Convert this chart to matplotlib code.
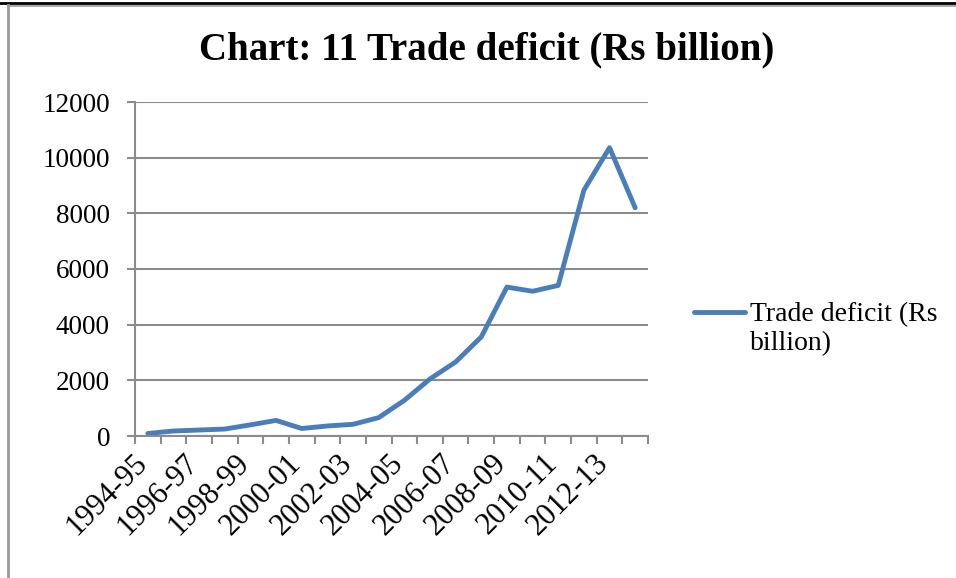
import matplotlib
matplotlib.use("Agg")
import matplotlib.pyplot as plt
from matplotlib.lines import Line2D
from matplotlib.legend_handler import HandlerLine2D
from matplotlib.transforms import ScaledTranslation

years = ["1994-95", "1995-96", "1996-97", "1997-98", "1998-99", "1999-00",
         "2000-01", "2001-02", "2002-03", "2003-04", "2004-05", "2005-06",
         "2006-07", "2007-08", "2008-09", "2009-10", "2010-11", "2011-12",
         "2012-13", "2013-14"]
deficit = [90, 180, 215, 250, 400, 560, 270, 360, 420, 660, 1280, 2050,
           2660, 3560, 5350, 5200, 5410, 8830, 10360, 8200]
yticks = [0, 2000, 4000, 6000, 8000, 10000, 12000]
series_name = "Trade deficit (Rs\nbillion)"
title = "Chart: 11 Trade deficit (Rs billion)"

W, H = 956, 578
fig = plt.figure(figsize=(W / 100, H / 100), dpi=100)
fig.patch.set_facecolor("white")
serif = ["Liberation Serif", "DejaVu Serif"]
FS = 19.5

ax = fig.add_axes([135 / W, 1 - 436 / H, 513 / W, 334 / H])
x = list(range(len(years)))
line, = ax.plot(x, deficit, color="#4a7ebb", lw=3.5, solid_capstyle="round",
                solid_joinstyle="round", label=series_name)

grid_c = "#8c8c8c"
ax.set_xlim(-0.5, len(years) - 0.5)
ax.set_ylim(0, 12000)
ax.set_yticks(yticks)
ax.set_yticklabels([str(v) for v in yticks], fontfamily=serif, fontsize=FS)
ax.yaxis.grid(True, color=grid_c, lw=1.5)
ax.set_axisbelow(True)
for s in ["top", "right"]:
    ax.spines[s].set_visible(False)
for s in ["left", "bottom"]:
    ax.spines[s].set_color(grid_c)
    ax.spines[s].set_linewidth(1.5)

ax.set_xticks([i - 0.5 for i in range(len(years) + 1)])
ax.set_xticklabels([])
ax.tick_params(axis="x", which="major", length=6, width=1.5, color=grid_c)
ax.tick_params(axis="y", which="major", length=6, width=1.5, color=grid_c, pad=12)
lab_pos = x[::2]
ax.set_xticks(lab_pos, minor=True)
labs = ax.set_xticklabels([years[i] for i in lab_pos], minor=True, rotation=45,
                          ha="right", va="top", fontfamily=serif, fontsize=22)
ax.tick_params(axis="x", which="minor", length=0, pad=9)
shift = ScaledTranslation(5 / 100, 0, fig.dpi_scale_trans)
for t in labs:
    t.set_transform(t.get_transform() + shift)

fig.text(487 / W, 1 - 50 / H, title, ha="center", va="center",
         fontfamily=serif, fontweight="bold", fontsize=28)


class TopLineHandler(HandlerLine2D):
    def create_artists(self, legend, orig_handle, xdescent, ydescent, width,
                       height, fontsize, trans):
        arts = super().create_artists(legend, orig_handle, xdescent, ydescent,
                                      width, height, fontsize, trans)
        for a in arts:
            yd = a.get_ydata()
            a.set_ydata([v + 0.6 * fontsize for v in yd])
        return arts


leg = fig.legend(handles=[line], labels=[series_name], loc="upper left",
                 bbox_to_anchor=(694 / W, 1 - 302 / H), frameon=False,
                 prop={"family": serif, "size": 20}, handlelength=1.85,
                 handletextpad=0.15, borderaxespad=0, borderpad=0,
                 handler_map={Line2D: TopLineHandler()})

fig.add_artist(Line2D([0, 1], [1 - 3 / H, 1 - 3 / H], color="black", lw=2,
                      transform=fig.transFigure))
fig.add_artist(Line2D([8 / W, 1], [1 - 5.5 / H, 1 - 5.5 / H], color="#999999",
                      lw=1.2, transform=fig.transFigure))
fig.add_artist(Line2D([7.5 / W, 7.5 / W], [0, 1 - 5 / H], color="#999999",
                      lw=2, transform=fig.transFigure))

fig.savefig("out.png", dpi=100, facecolor="white")
